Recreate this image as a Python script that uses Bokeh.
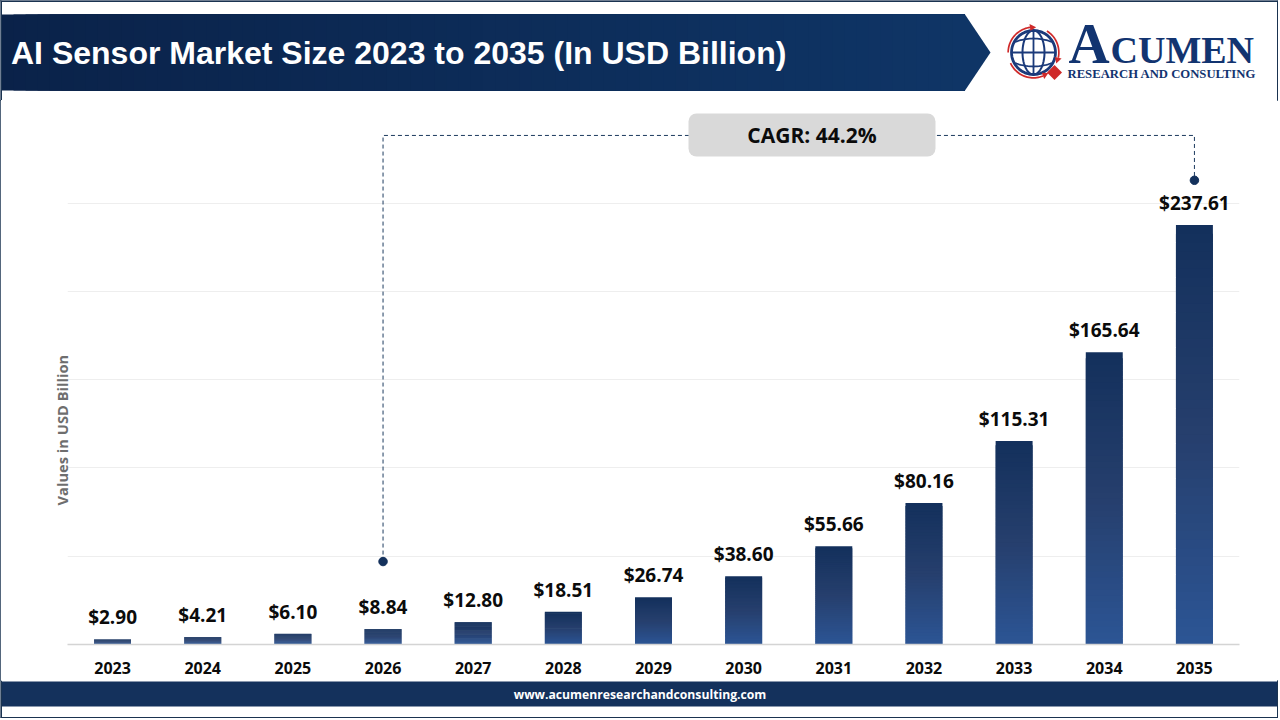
import math
from bokeh.core.properties import value
from bokeh.embed import file_html
from bokeh.layouts import column, row
from bokeh.resources import INLINE
from bokeh.plotting import figure
from bokeh.models import (ColumnDataSource, LabelSet, Label, BoxAnnotation,
                          FixedTicker, Range1d, Title)

years = ["2023", "2024", "2025", "2026", "2027", "2028", "2029", "2030", "2031", "2032", "2033", "2034", "2035"]
market_size = [2.90, 4.21, 6.10, 8.84, 12.80, 18.51, 26.74, 38.60, 55.66, 80.16, 115.31, 165.64, 237.61]
grid_values = [0, 50, 100, 150, 200, 250]
title_text = "AI Sensor Market Size 2023 to 2035 (In USD Billion)"
y_title = "Values in USD Billion"
cagr_text = "CAGR: 44.2%"
footer_text = "www.acumenresearchandconsulting.com"
cagr_start_year, cagr_start_value = "2026", 47
cagr_end_year, cagr_end_value = "2035", 263
cagr_line_value = 288.4

NAVY = "#14315c"
FRAME = "#1a3350"
W = 1278
H_HEAD, H_CHART, H_FOOT = 100, 580, 38


def lerp_hex(a, b, t):
    ca = [int(a[i:i + 2], 16) for i in (1, 3, 5)]
    cb = [int(b[i:i + 2], 16) for i in (1, 3, 5)]
    return "#%02x%02x%02x" % tuple(round(p + (q - p) * t) for p, q in zip(ca, cb))


def bar_color(t):
    # t = 0 at the foot of the bar, 1 at its head
    if t < 0.5:
        return lerp_hex("#2c5595", "#263f6d", t / 0.5)
    return lerp_hex("#263f6d", "#13305c", (t - 0.5) / 0.5)


# ---------- chart ----------
p = figure(x_range=years, y_range=Range1d(0, 308.2), width=W, height=H_CHART,
           output_backend="svg", toolbar_location=None,
           min_border_left=67, min_border_right=39, min_border_top=0, min_border_bottom=36,
           outline_line_color=None, background_fill_color="white", border_fill_color="white")
p.x_range.factor_padding = 0
p.x_range.range_padding = 0
p.xgrid.visible = False
p.ygrid.ticker = FixedTicker(ticks=grid_values)
p.ygrid.grid_line_color = "#eeeeee"
p.ygrid.grid_line_width = 1

ax = p.xaxis[0]
ax.axis_line_color = "#d4d4d4"
ax.axis_line_width = 1.5
ax.major_tick_line_color = None
ax.minor_tick_line_color = None
ax.major_label_text_font = "Open Sans"
ax.major_label_text_font_style = "bold"
ax.major_label_text_font_size = "16px"
ax.major_label_text_color = "#0b0b0b"
ax.major_label_standoff = 11

p.yaxis.visible = False
p.add_layout(Title(text=y_title, align="left", offset=139, standoff=-9, text_font="Open Sans",
                   text_font_style="bold", text_font_size="14.7px", text_color="#6e6e6e"), "left")

# bars: painted head-first in overlapping slices, each lighter one covering the foot of the last
SLICES = 48
seg = dict(x=[], bottom=[], top=[], color=[])
for yr, v in zip(years, market_size):
    for i in range(SLICES, 0, -1):
        seg["x"].append(yr)
        seg["bottom"].append(max(0, v * (i - 2) / SLICES))
        seg["top"].append(v * i / SLICES)
        seg["color"].append(bar_color((i - 0.5) / SLICES))
p.vbar(x="x", bottom="bottom", top="top", width=0.41, fill_color="color", line_color=None,
       source=ColumnDataSource(seg))

lab = ColumnDataSource(dict(x=years, y=market_size, t=[f"${v:.2f}" for v in market_size]))
p.add_layout(LabelSet(x="x", y="y", text="t", source=lab, y_offset=22, text_align="center",
                      text_baseline="middle", text_font=value("Open Sans"),
                      text_font_style="bold", text_font_size="19px", text_color="#0b0b0b"))

p.line(x=[cagr_start_year, cagr_start_year, cagr_end_year, cagr_end_year],
       y=[cagr_start_value, cagr_line_value, cagr_line_value, cagr_end_value],
       line_color="#1c3a5e", line_width=1, line_dash=[4, 3])
p.scatter(x=[cagr_start_year, cagr_end_year], y=[cagr_start_value, cagr_end_value],
          size=8.5, color=NAVY)

# CAGR pill (frame-relative pixels: left edge 67, foot 644)
p.add_layout(BoxAnnotation(left=688 - 67, right=935 - 67, top=644 - 113, bottom=644 - 156,
                           left_units="screen", right_units="screen",
                           top_units="screen", bottom_units="screen",
                           fill_color="#d9d9d9", fill_alpha=1, line_color=None, border_radius=8))
p.add_layout(Label(x=811.5 - 67, y=644 - 134.5, x_units="screen", y_units="screen", text=cagr_text,
                   text_font="Open Sans", text_font_style="bold", text_font_size="21px",
                   text_color="#0b0b0b", text_baseline="middle", text_align="center"))


# ---------- pixel-mapped strips ----------
def strip(y0, y1):
    f = figure(x_range=Range1d(0, W), y_range=Range1d(y1, y0), width=W, height=y1 - y0,
               output_backend="svg", toolbar_location=None, min_border=0,
               outline_line_color=None, background_fill_color="white", border_fill_color="white")
    f.axis.visible = False
    f.grid.visible = False
    return f


def label(f, x, y, s, **kw):
    f.add_layout(Label(x=x, y=y, text=s, **kw))


# header
h = strip(0, H_HEAD)
HDR_STEPS = 80
for i in range(HDR_STEPS):
    x0 = 1 + (964 - 1) * i / HDR_STEPS
    c = lerp_hex("#0a2249", "#0f3566", (i + 0.5) / HDR_STEPS)
    h.patch([x0, 964, 964, x0], [14, 14, 90, 90], color=c, line_color=None)
h.patch([963.5, 964.5, 990, 964.5, 963.5], [14, 14, 52, 90, 90], color="#0f3566", line_color=None)
label(h, 10.5, 52, title_text, text_font="Liberation Sans", text_font_style="bold",
      text_font_size="32px", text_color="white", text_baseline="middle", text_align="left")
h.segment([0, 0.75, W - 0.75], [0.75, 0, 0], [W, 0.75, W - 0.75], [0.75, H_HEAD, H_HEAD],
          line_color=FRAME, line_width=1.5)

GX, GY, GR = 1033, 52, 22
LOGO = "#1b3a7a"
LOGO_TEXT = "#123470"
RED = "#cf2a2a"


def ell(rx, ry, n=60):
    return ([GX + rx * math.cos(2 * math.pi * k / n) for k in range(n + 1)],
            [GY + ry * math.sin(2 * math.pi * k / n) for k in range(n + 1)])


def arc(a0, a1, r0=24.5, r1=26.2, n=24):
    angs = [math.radians(a0 + (a1 - a0) * k / n) for k in range(n + 1)]
    xs = [GX + r1 * math.cos(a) for a in angs] + [GX + r0 * math.cos(a) for a in reversed(angs)]
    ys = [GY - r1 * math.sin(a) for a in angs] + [GY - r0 * math.sin(a) for a in reversed(angs)]
    return xs, ys


def arrow(a, direction):
    t, d = math.radians(a), math.radians(a + direction * 14)
    r = 25.3
    return ([GX + (r + 3.4) * math.cos(t), GX + (r - 3.4) * math.cos(t), GX + r * math.cos(d)],
            [GY - (r + 3.4) * math.sin(t), GY - (r - 3.4) * math.sin(t), GY - r * math.sin(d)])


def parallel(sign):
    half = 18.5
    xs = [-half + 2 * half * k / 20 for k in range(21)]
    return ([GX + a for a in xs],
            [GY + sign * (10.5 + 3.5 * (1 - (a / half) ** 2)) for a in xs])


h.line(*ell(GR, GR), line_color=LOGO, line_width=2.8)
h.line(*ell(11, GR), line_color=LOGO, line_width=2)
h.segment([GX, GX - GR], [GY - GR, GY], [GX, GX + GR], [GY + GR, GY], line_color=LOGO, line_width=1.8)
h.line(*parallel(-1), line_color=LOGO, line_width=1.8)
h.line(*parallel(1), line_color=LOGO, line_width=1.8)
for a0, a1, d in [(180, 98, -1), (58, -12, -1), (205, 292, 1)]:
    h.patch(*arc(a0, a1), color=RED, line_color=None)
    h.patch(*arrow(a1, d), color=RED, line_color=None)
h.patch([1054, 1061.5, 1054, 1046.5], [64.5, 72, 79.5, 72], color=RED, line_color=None)
label(h, 1068, 42.5, "A", text_font="Liberation Serif", text_font_style="bold", text_font_size="57px",
      text_color=LOGO_TEXT, text_baseline="alphabetic", text_align="left")
label(h, 1110, 49.5, "CUMEN", text_font="Liberation Serif", text_font_style="bold", text_font_size="38px",
      text_color=LOGO_TEXT, text_baseline="alphabetic", text_align="left")
label(h, 1067, 73.6, "RESEARCH AND CONSULTING", text_font="Liberation Serif", text_font_style="bold",
      text_font_size="12.7px", text_color=LOGO_TEXT, text_baseline="alphabetic", text_align="left")

# footer
ft = strip(680, 680 + H_FOOT)
ft.patch([1, W - 1, W - 1, 1], [681, 681, 706, 706], color=NAVY, line_color=None)
label(ft, 639.5, 693.5, footer_text, text_font="Open Sans", text_font_style="bold", text_font_size="12.2px",
      text_color="white", text_baseline="middle", text_align="center")
ft.segment([0, 0.75, W - 0.75], [717.25, 680, 680], [W, 0.75, W - 0.75], [717.25, 718, 718],
           line_color=FRAME, line_width=1.5)

page = column(row(h, spacing=0), p, row(ft, spacing=0), spacing=0, width=W, height=718,
              styles={"outline": f"1.5px solid {FRAME}", "outline-offset": "-1.5px"})

open("out.html", "w").write(file_html(page, INLINE))
